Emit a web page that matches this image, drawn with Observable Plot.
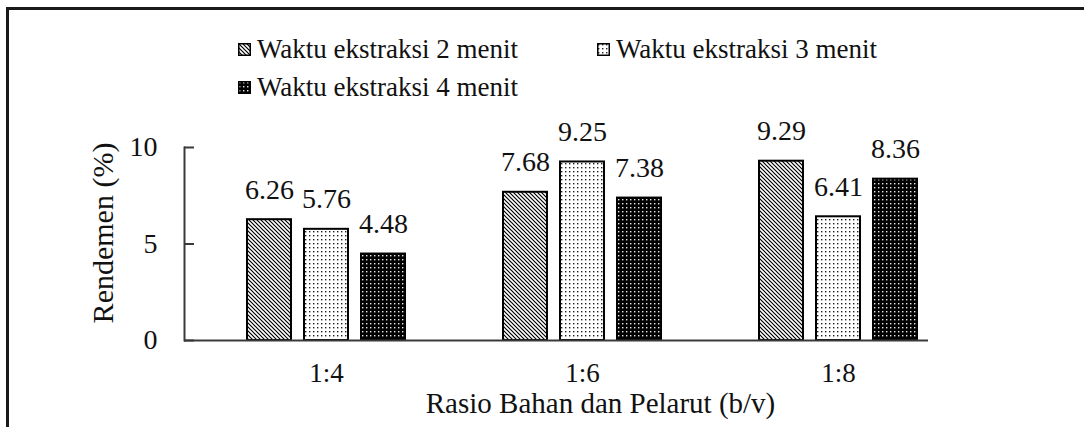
<!DOCTYPE html>
<html><head><meta charset="utf-8">
<script src="https://cdn.jsdelivr.net/npm/d3@7"></script>
<script src="https://cdn.jsdelivr.net/npm/@observablehq/plot@0.6"></script>
<style>
html,body{margin:0;padding:0;background:#fff;}
#wrap{position:relative;width:1084px;height:427px;overflow:hidden;font-family:'Liberation Serif',serif;}
#box{position:absolute;left:6px;top:7px;right:-10px;bottom:-10px;border-left:3px solid #1a1a1a;border-top:3px solid #1a1a1a;}
#legend{position:absolute;left:238px;top:30px;width:720px;display:flex;flex-wrap:wrap;font-family:'Liberation Serif',serif;font-size:27px;color:#111;}
.item{width:359px;height:38px;display:flex;align-items:center;white-space:nowrap;font-family:'Liberation Serif',serif;}
.sw{width:13px;height:13px;margin-right:6px;flex:none;display:block;}
#chart{position:absolute;left:0;top:110px;}
</style></head><body>
<svg width="0" height="0" style="position:absolute">
<defs>
<pattern id="pHatch" patternUnits="userSpaceOnUse" width="4" height="4">
<rect width="4" height="4" fill="#fff"/>
<path d="M-1,-1L5,5M-1,3L1,5M3,-1L5,1" stroke="#000" stroke-width="1.2"/>
</pattern>
<pattern id="pLight" patternUnits="userSpaceOnUse" width="4" height="4">
<rect width="4" height="4" fill="#fff"/>
<rect x="1" y="1" width="1.4" height="1.4" fill="#222"/>
</pattern>
<pattern id="pDark" patternUnits="userSpaceOnUse" width="4" height="4">
<rect width="4" height="4" fill="#000"/>
<rect x="1" y="1" width="1.4" height="1.4" fill="#eee"/>
</pattern>
</defs></svg>
<div id="wrap"><div id="box"></div><div id="chart"></div><div id="legend"></div></div>
<script>
const ratios = ["1:4", "1:6", "1:8"];
const seriesNames = ["Waktu ekstraksi 2 menit", "Waktu ekstraksi 3 menit", "Waktu ekstraksi 4 menit"];
const menit2 = [6.26, 7.68, 9.29];
const menit3 = [5.76, 9.25, 6.41];
const menit4 = [4.48, 7.38, 8.36];
const yTicks = [0, 5, 10];
const xTitle = "Rasio Bahan dan Pelarut (b/v)";
const yTitle = "Rendemen (%)";

const SERIF = "Liberation Serif";
const fills = ["url(#pHatch)", "url(#pLight)", "url(#pDark)"];
const seriesValues = [menit2, menit3, menit4];
const offsets = [-57, 0, 57];
const data = seriesValues.map((vals, i) => ratios.map((r, j) => ({ratio: r, value: vals[j], series: seriesNames[i]})));

const marks = [];
data.forEach((rows, i) => {
  marks.push(Plot.barY(rows, {x: "ratio", y: "value", fill: fills[i], stroke: "#000", strokeWidth: 2, insetLeft: 106, insetRight: 106, dx: offsets[i]}));
  marks.push(Plot.text(rows, {x: "ratio", y: "value", text: d => d.value.toFixed(2), dx: offsets[i], dy: -30, fontSize: 28, fontFamily: SERIF, fontVariant: "normal", fill: "#111"}));
});

const chart = Plot.plot({
  width: 1084,
  height: 317,
  marginTop: 37,
  marginBottom: 87,
  marginLeft: 184,
  marginRight: 156,
  style: {fontFamily: SERIF, background: "transparent", color: "#111"},
  x: {domain: ratios, range: [197.5, 967], padding: 0},
  y: {domain: [0, 10]},
  marks: [
    ...marks,
    Plot.ruleY([0], {stroke: "#3a3a3a", strokeWidth: 2}),
    Plot.frame({anchor: "left", stroke: "#3a3a3a", strokeWidth: 2}),
    Plot.axisY({ticks: yTicks, tickSize: 10, dx: 10, tickFormat: () => "", stroke: "#3a3a3a", strokeWidth: 2, label: null}),
    Plot.axisY({ticks: yTicks, tickSize: 0, tickPadding: 27, fontSize: 28, fontFamily: SERIF, fontVariant: "normal", label: null, fill: "#111"}),
    Plot.axisX({tickSize: 0, tickPadding: 22, fontSize: 27, fontFamily: SERIF, label: null, fill: "#111"}),
    Plot.text([xTitle], {frameAnchor: "bottom", dx: 44, dy: 72, fontSize: 29, fontFamily: SERIF, fill: "#111"}),
    Plot.text([yTitle], {frameAnchor: "left", textAnchor: "middle", rotate: -90, dx: -81, dy: -11, fontSize: 30, fontFamily: SERIF, fill: "#111"})
  ]
});
document.getElementById("chart").appendChild(chart);

const legend = document.getElementById("legend");
seriesNames.forEach((name, i) => {
  const item = document.createElement("div");
  item.className = "item";
  item.innerHTML = `<svg class="sw" width="13" height="13"><rect x="0.75" y="0.75" width="11.5" height="11.5" fill="${fills[i]}" stroke="#000" stroke-width="1.5"/></svg><span>${name}</span>`;
  legend.appendChild(item);
});
</script>
</body></html>
